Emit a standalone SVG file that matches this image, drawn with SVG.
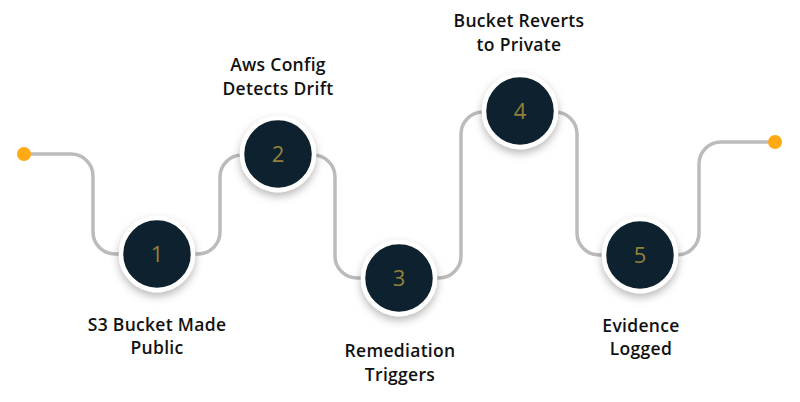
<svg xmlns="http://www.w3.org/2000/svg" width="800" height="402" viewBox="0 0 800 402">
<defs>
<filter id="sh" x="-40%" y="-40%" width="180%" height="180%">
<feDropShadow dx="0" dy="4" stdDeviation="4" flood-color="#000" flood-opacity="0.28"/>
</filter>
</defs>
<style>
.path{fill:none;stroke:#BBBBBB;stroke-width:3.5;stroke-linecap:round}
.dot{fill:#FFAA14}
.ring{fill:#0C202D;stroke:#FFFFFF;stroke-width:4.5;filter:url(#sh)}
.num{font-family:"Open Sans","Liberation Sans",sans-serif;font-size:22px;fill:#93803A;text-anchor:middle}
.lbl{font-family:"Open Sans","Liberation Sans",sans-serif;font-size:17.5px;font-weight:600;fill:#111111;text-anchor:middle;letter-spacing:0.3px}
</style>
<rect width="800" height="402" fill="#FFFFFF"/>
<g id="connectors">
<path class="path" d="M24,154 H71 A22,22 0 0 1 93,176 V232 A22,22 0 0 0 115,254 H157 H198 A22,22 0 0 0 220,232 V177 A22,22 0 0 1 242,155 H278 H313 A22,22 0 0 1 335,177 V256 A22,22 0 0 0 357,278 H399 H439 A22,22 0 0 0 461,256 V134 A22,22 0 0 1 483,112 H520 H555 A22,22 0 0 1 577,134 V233 A22,22 0 0 0 599,255 H640 H677 A22,22 0 0 0 699,233 V164 A22,22 0 0 1 721,142 H775"/>
<circle class="dot" cx="24" cy="154" r="7"/>
<circle class="dot" cx="775" cy="142" r="7"/>
</g>
<g id="node1">
<circle class="ring" cx="157" cy="254" r="36"/>
<text class="num" x="157" y="262">1</text>
<text class="lbl" x="157" y="331">S3 Bucket Made</text>
<text class="lbl" x="157" y="354">Public</text>
</g>
<g id="node2">
<circle class="ring" cx="278" cy="154" r="36"/>
<text class="num" x="278" y="162">2</text>
<text class="lbl" x="278" y="71">Aws Config</text>
<text class="lbl" x="278" y="95">Detects Drift</text>
</g>
<g id="node3">
<circle class="ring" cx="399" cy="278" r="36"/>
<text class="num" x="399" y="286">3</text>
<text class="lbl" x="400" y="357">Remediation</text>
<text class="lbl" x="400" y="381">Triggers</text>
</g>
<g id="node4">
<circle class="ring" cx="520" cy="111" r="36"/>
<text class="num" x="520" y="119">4</text>
<text class="lbl" x="519" y="27">Bucket Reverts</text>
<text class="lbl" x="519" y="51">to Private</text>
</g>
<g id="node5">
<circle class="ring" cx="640" cy="255" r="36"/>
<text class="num" x="640" y="263">5</text>
<text class="lbl" x="641" y="332">Evidence</text>
<text class="lbl" x="641" y="355">Logged</text>
</g>
</svg>
